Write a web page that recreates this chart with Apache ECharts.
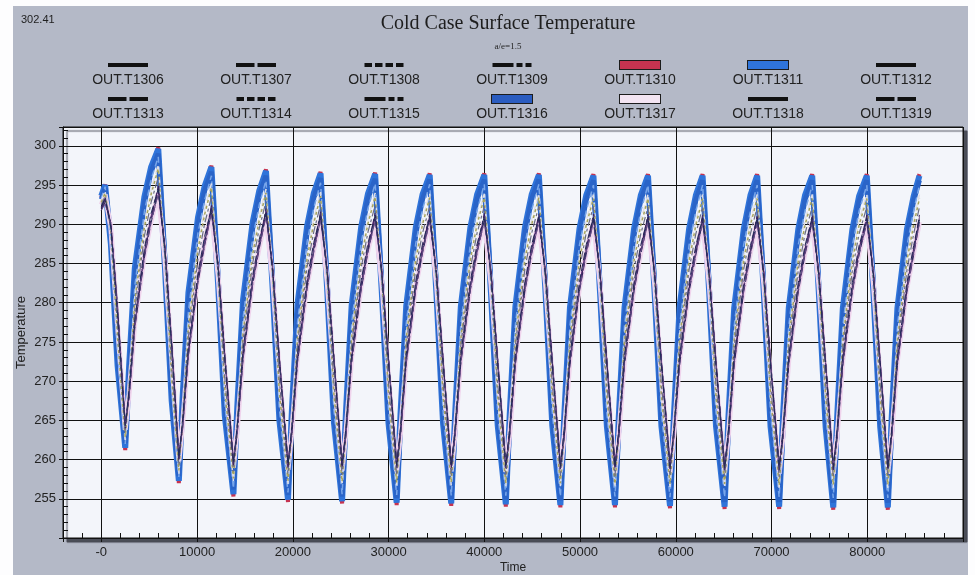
<!DOCTYPE html>
<html>
<head>
<meta charset="utf-8">
<title>Cold Case Surface Temperature</title>
<script src="https://cdn.jsdelivr.net/npm/echarts@6/dist/echarts.min.js"></script>
<style>
  html, body { margin: 0; padding: 0; background: #fff; }
  #chart { width: 975px; height: 575px; }
</style>
</head>
<body>
<div id="chart"></div>
<script>
// legend rows
var legendRow1 = ['OUT.T1306', 'OUT.T1307', 'OUT.T1308', 'OUT.T1309', 'OUT.T1310', 'OUT.T1311', 'OUT.T1312']
var legendRow2 = ['OUT.T1313', 'OUT.T1314', 'OUT.T1315', 'OUT.T1316', 'OUT.T1317', 'OUT.T1318', 'OUT.T1319']

// sample times (s), shared by every sensor
var time = [
  0, 400, 1000, 1700,
  2500, 2900, 3500, 4500, 5200, 5950, 6650, 7350,
  8100, 8500, 9100, 10100, 10800, 11500, 12200, 12900,
  13800, 14200, 14800, 15800, 16500, 17200, 17900, 18600,
  19500, 19900, 20500, 21500, 22200, 22900, 23600, 24300,
  25150, 25550, 26150, 27150, 27850, 28600, 29300, 30000,
  30850, 31250, 31850, 32850, 33550, 34300, 35000, 35700,
  36550, 36950, 37550, 38550, 39250, 40000, 40700, 41400,
  42250, 42650, 43250, 44250, 44950, 45700, 46400, 47100,
  47950, 48350, 48950, 49950, 50650, 51400, 52100, 52800,
  53650, 54050, 54650, 55650, 56350, 57100, 57800, 58500,
  59400, 59800, 60400, 61400, 62100, 62800, 63500, 64200,
  65100, 65500, 66100, 67100, 67800, 68500, 69200, 69900,
  70800, 71200, 71800, 72800, 73500, 74250, 74950, 75650,
  76450, 76850, 77450, 78450, 79150, 79950, 80650, 81350,
  82150, 82550, 83150, 84150, 84850, 85450
]

var t1310 = [
  293.4, 295.1, 287.5, 272.0,
  261.2, 271.8, 284.4, 293.5, 297.3, 299.8, 284.4, 267.5,
  257.0, 268.1, 281.3, 290.9, 294.9, 297.5, 282.3, 265.6,
  255.3, 266.7, 280.3, 290.2, 294.3, 297.0, 281.7, 265.0,
  254.6, 266.1, 279.9, 289.8, 294.0, 296.7, 281.5, 264.7,
  254.4, 266.0, 279.7, 289.7, 293.9, 296.6, 281.3, 264.6,
  254.2, 265.8, 279.6, 289.6, 293.8, 296.5, 281.2, 264.5,
  254.1, 265.7, 279.5, 289.6, 293.8, 296.5, 281.2, 264.4,
  254.0, 265.6, 279.5, 289.6, 293.8, 296.5, 281.2, 264.4,
  253.9, 265.5, 279.4, 289.5, 293.7, 296.4, 281.1, 264.3,
  253.9, 265.5, 279.4, 289.5, 293.7, 296.4, 281.1, 264.3,
  253.8, 265.5, 279.4, 289.5, 293.7, 296.4, 281.1, 264.3,
  253.7, 265.4, 279.3, 289.4, 293.7, 296.4, 281.1, 264.2,
  253.7, 265.4, 279.3, 289.4, 293.7, 296.4, 281.1, 264.2,
  253.6, 265.3, 279.3, 289.4, 293.6, 296.4, 281.1, 264.2,
  253.6, 265.3, 279.3, 289.4, 293.6, 296.4
]

var t1311 = [
  293.6, 295.0, 287.5, 272.0,
  261.5, 271.8, 284.4, 293.5, 297.3, 299.6, 284.4, 267.5,
  257.3, 268.1, 281.3, 290.9, 294.9, 297.3, 282.3, 265.6,
  255.6, 266.7, 280.3, 290.2, 294.3, 296.8, 281.7, 265.0,
  254.9, 266.1, 279.9, 289.8, 294.0, 296.5, 281.5, 264.7,
  254.7, 266.0, 279.7, 289.7, 293.9, 296.4, 281.3, 264.6,
  254.5, 265.8, 279.6, 289.6, 293.8, 296.3, 281.2, 264.5,
  254.4, 265.7, 279.5, 289.6, 293.8, 296.3, 281.2, 264.4,
  254.3, 265.6, 279.5, 289.6, 293.8, 296.3, 281.2, 264.4,
  254.2, 265.5, 279.4, 289.5, 293.7, 296.2, 281.1, 264.3,
  254.2, 265.5, 279.4, 289.5, 293.7, 296.2, 281.1, 264.3,
  254.1, 265.5, 279.4, 289.5, 293.7, 296.2, 281.1, 264.3,
  254.0, 265.4, 279.3, 289.4, 293.7, 296.2, 281.1, 264.2,
  254.0, 265.4, 279.3, 289.4, 293.7, 296.2, 281.1, 264.2,
  253.9, 265.3, 279.3, 289.4, 293.6, 296.2, 281.1, 264.2,
  253.9, 265.3, 279.3, 289.4, 293.6, 296.2
]

var t1316 = [
  293.2, 294.6, 288.5, 273.0,
  262.1, 270.3, 283.2, 292.7, 296.7, 299.0, 285.4, 268.5,
  257.9, 266.6, 280.1, 290.1, 294.3, 296.7, 283.3, 266.6,
  256.2, 265.2, 279.1, 289.4, 293.7, 296.2, 282.7, 266.0,
  255.5, 264.6, 278.7, 289.0, 293.4, 295.9, 282.5, 265.7,
  255.3, 264.5, 278.5, 288.9, 293.3, 295.8, 282.3, 265.6,
  255.1, 264.3, 278.4, 288.8, 293.2, 295.7, 282.2, 265.5,
  255.0, 264.2, 278.3, 288.8, 293.2, 295.7, 282.2, 265.4,
  254.9, 264.1, 278.3, 288.8, 293.2, 295.7, 282.2, 265.4,
  254.8, 264.0, 278.2, 288.7, 293.1, 295.6, 282.1, 265.3,
  254.8, 264.0, 278.2, 288.7, 293.1, 295.6, 282.1, 265.3,
  254.7, 264.0, 278.2, 288.7, 293.1, 295.6, 282.1, 265.3,
  254.6, 263.9, 278.1, 288.6, 293.1, 295.6, 282.1, 265.2,
  254.6, 263.9, 278.1, 288.6, 293.1, 295.6, 282.1, 265.2,
  254.5, 263.8, 278.1, 288.6, 293.0, 295.6, 282.1, 265.2,
  254.5, 263.8, 278.1, 288.6, 293.0, 295.6
]

var t1317 = [
  292.5, 293.8, 289.5, 277.0,
  263.8, 268.3, 277.4, 286.1, 290.4, 294.0, 285.5, 272.8,
  259.8, 264.6, 274.1, 283.3, 287.8, 291.6, 283.5, 271.4,
  259.0, 263.8, 273.4, 282.6, 287.1, 290.9, 282.9, 270.9,
  258.7, 263.5, 273.1, 282.3, 286.8, 290.6, 282.6, 270.6,
  258.6, 263.4, 273.0, 282.2, 286.7, 290.5, 282.5, 270.5,
  258.5, 263.3, 272.9, 282.1, 286.6, 290.5, 282.5, 270.5,
  258.5, 263.3, 272.9, 282.1, 286.6, 290.4, 282.4, 270.4,
  258.4, 263.2, 272.8, 282.0, 286.5, 290.4, 282.4, 270.4,
  258.4, 263.2, 272.8, 282.0, 286.5, 290.4, 282.4, 270.4,
  258.3, 263.1, 272.7, 281.9, 286.4, 290.3, 282.3, 270.3,
  258.3, 263.1, 272.7, 281.9, 286.4, 290.3, 282.3, 270.3,
  258.3, 263.1, 272.7, 281.9, 286.4, 290.3, 282.3, 270.3,
  258.2, 263.0, 272.6, 281.9, 286.4, 290.3, 282.3, 270.3,
  258.2, 263.0, 272.6, 281.9, 286.4, 290.3, 282.3, 270.3,
  258.2, 263.0, 272.6, 281.9, 286.4, 290.3
]

var t1314 = [
  293.3, 294.8, 288.0, 274.0,
  262.0, 270.1, 282.1, 291.6, 295.7, 298.6, 285.1, 268.8,
  257.8, 266.2, 278.9, 288.9, 293.1, 296.2, 283.0, 267.1,
  256.3, 264.9, 277.9, 288.1, 292.5, 295.6, 282.5, 266.5,
  255.8, 264.5, 277.5, 287.8, 292.1, 295.3, 282.2, 266.3,
  255.6, 264.3, 277.4, 287.7, 292.0, 295.2, 282.1, 266.2,
  255.5, 264.2, 277.3, 287.6, 291.9, 295.1, 282.0, 266.1,
  255.4, 264.1, 277.2, 287.5, 291.8, 295.1, 282.0, 266.1,
  255.4, 264.1, 277.2, 287.5, 291.8, 295.1, 282.0, 266.1,
  255.3, 264.0, 277.1, 287.4, 291.7, 295.0, 281.9, 266.0,
  255.3, 264.0, 277.1, 287.4, 291.7, 295.0, 281.9, 266.0,
  255.2, 263.9, 277.0, 287.4, 291.7, 295.0, 281.9, 266.0,
  255.2, 263.9, 277.0, 287.4, 291.7, 295.0, 281.9, 266.0,
  255.2, 263.9, 277.0, 287.4, 291.7, 295.0, 281.9, 266.0,
  255.1, 263.9, 277.0, 287.3, 291.7, 295.0, 281.9, 266.0,
  255.1, 263.9, 277.0, 287.3, 291.7, 295.0
]

var t1307 = [
  293.0, 294.2, 289.0, 275.0,
  262.5, 269.5, 280.8, 290.2, 294.4, 297.6, 285.8, 270.0,
  258.2, 265.6, 277.4, 287.4, 291.9, 295.2, 283.8, 268.6,
  257.2, 264.7, 276.6, 286.7, 291.1, 294.5, 283.2, 268.2,
  256.9, 264.3, 276.2, 286.3, 290.8, 294.1, 282.9, 267.9,
  256.8, 264.2, 276.1, 286.2, 290.7, 294.0, 282.8, 267.9,
  256.7, 264.1, 276.0, 286.1, 290.6, 293.9, 282.7, 267.8,
  256.7, 264.1, 276.0, 286.1, 290.6, 293.9, 282.7, 267.8,
  256.6, 264.1, 276.0, 286.1, 290.6, 293.9, 282.7, 267.8,
  256.6, 264.0, 275.9, 286.0, 290.5, 293.8, 282.6, 267.7,
  256.5, 264.0, 275.9, 286.0, 290.5, 293.8, 282.6, 267.7,
  256.5, 264.0, 275.9, 286.0, 290.5, 293.8, 282.6, 267.7,
  256.5, 264.0, 275.9, 286.0, 290.5, 293.8, 282.6, 267.7,
  256.4, 263.9, 275.8, 286.0, 290.5, 293.8, 282.6, 267.7,
  256.4, 263.9, 275.8, 286.0, 290.5, 293.8, 282.6, 267.7,
  256.4, 263.9, 275.8, 286.0, 290.5, 293.8
]

var t1308 = [
  292.8, 294.0, 289.4, 275.6,
  262.9, 268.9, 280.2, 289.6, 293.8, 297.1, 286.2, 270.4,
  258.6, 265.0, 276.8, 286.8, 291.3, 294.7, 284.2, 269.0,
  257.6, 264.1, 276.0, 286.1, 290.5, 294.0, 283.6, 268.6,
  257.3, 263.7, 275.6, 285.7, 290.2, 293.6, 283.3, 268.3,
  257.2, 263.6, 275.5, 285.6, 290.1, 293.5, 283.2, 268.3,
  257.1, 263.5, 275.4, 285.5, 290.0, 293.4, 283.1, 268.2,
  257.1, 263.5, 275.4, 285.5, 290.0, 293.4, 283.1, 268.2,
  257.0, 263.5, 275.4, 285.5, 290.0, 293.4, 283.1, 268.2,
  257.0, 263.4, 275.3, 285.4, 289.9, 293.3, 283.0, 268.1,
  256.9, 263.4, 275.3, 285.4, 289.9, 293.3, 283.0, 268.1,
  256.9, 263.4, 275.3, 285.4, 289.9, 293.3, 283.0, 268.1,
  256.9, 263.4, 275.3, 285.4, 289.9, 293.3, 283.0, 268.1,
  256.8, 263.3, 275.2, 285.4, 289.9, 293.3, 283.0, 268.1,
  256.8, 263.3, 275.2, 285.4, 289.9, 293.3, 283.0, 268.1,
  256.8, 263.3, 275.2, 285.4, 289.9, 293.3
]

var t1309 = [
  292.5, 293.6, 289.5, 277.0,
  263.5, 269.0, 279.1, 288.5, 292.8, 296.0, 286.1, 271.8,
  259.3, 265.1, 275.7, 285.6, 290.1, 293.5, 284.0, 270.4,
  258.5, 264.3, 275.0, 285.0, 289.5, 292.9, 283.5, 270.0,
  258.2, 264.0, 274.7, 284.6, 289.1, 292.5, 283.2, 269.8,
  258.1, 263.9, 274.6, 284.5, 289.0, 292.4, 283.1, 269.7,
  258.0, 263.8, 274.5, 284.4, 288.9, 292.3, 283.0, 269.7,
  258.0, 263.8, 274.5, 284.4, 288.9, 292.3, 283.0, 269.7,
  258.0, 263.8, 274.5, 284.4, 288.9, 292.3, 283.0, 269.7,
  257.9, 263.7, 274.4, 284.3, 288.9, 292.3, 283.0, 269.7,
  257.9, 263.7, 274.4, 284.3, 288.8, 292.2, 282.9, 269.6,
  257.9, 263.7, 274.4, 284.3, 288.8, 292.2, 282.9, 269.6,
  257.9, 263.7, 274.4, 284.3, 288.8, 292.2, 282.9, 269.6,
  257.8, 263.6, 274.3, 284.2, 288.8, 292.2, 282.9, 269.6,
  257.8, 263.6, 274.3, 284.2, 288.8, 292.2, 282.9, 269.6,
  257.8, 263.6, 274.3, 284.2, 288.8, 292.2
]

var t1306 = [
  292.0, 293.0, 290.0, 279.0,
  264.5, 268.1, 277.1, 286.1, 290.6, 294.3, 287.0, 274.8,
  260.5, 264.3, 273.6, 283.0, 287.7, 291.8, 284.8, 273.2,
  259.8, 263.6, 273.1, 282.6, 287.3, 291.4, 284.4, 272.8,
  259.6, 263.4, 272.8, 282.2, 286.9, 291.0, 284.1, 272.8,
  259.5, 263.3, 272.7, 282.1, 286.8, 290.9, 284.0, 272.7,
  259.5, 263.3, 272.6, 282.0, 286.7, 290.8, 283.9, 272.6,
  259.4, 263.2, 272.6, 282.0, 286.7, 290.8, 283.9, 272.6,
  259.4, 263.2, 272.5, 281.9, 286.6, 290.7, 283.8, 272.5,
  259.3, 263.1, 272.5, 281.9, 286.6, 290.7, 283.8, 272.5,
  259.3, 263.1, 272.5, 281.9, 286.6, 290.7, 283.8, 272.5,
  259.3, 263.1, 272.4, 281.8, 286.5, 290.6, 283.7, 272.4,
  259.2, 263.0, 272.4, 281.8, 286.5, 290.6, 283.7, 272.4,
  259.2, 263.0, 272.4, 281.8, 286.5, 290.6, 283.7, 272.4,
  259.2, 263.0, 272.4, 281.8, 286.5, 290.6, 283.7, 272.4,
  259.2, 263.0, 272.4, 281.8, 286.5, 290.6
]

var t1312 = [
  292.2, 293.2, 290.0, 279.0,
  264.2, 268.5, 277.5, 286.5, 291.0, 294.6, 287.0, 274.8,
  260.2, 264.7, 274.0, 283.4, 288.1, 292.1, 284.8, 273.2,
  259.5, 264.0, 273.5, 283.0, 287.7, 291.7, 284.4, 272.8,
  259.3, 263.8, 273.2, 282.6, 287.3, 291.3, 284.1, 272.8,
  259.2, 263.7, 273.1, 282.5, 287.2, 291.2, 284.0, 272.7,
  259.2, 263.7, 273.0, 282.4, 287.1, 291.1, 283.9, 272.6,
  259.1, 263.6, 273.0, 282.4, 287.1, 291.1, 283.9, 272.6,
  259.1, 263.6, 272.9, 282.3, 287.0, 291.0, 283.8, 272.5,
  259.0, 263.5, 272.9, 282.3, 287.0, 291.0, 283.8, 272.5,
  259.0, 263.5, 272.9, 282.3, 287.0, 291.0, 283.8, 272.5,
  259.0, 263.5, 272.8, 282.2, 286.9, 290.9, 283.7, 272.4,
  258.9, 263.4, 272.8, 282.2, 286.9, 290.9, 283.7, 272.4,
  258.9, 263.4, 272.8, 282.2, 286.9, 290.9, 283.7, 272.4,
  258.9, 263.4, 272.8, 282.2, 286.9, 290.9, 283.7, 272.4,
  258.9, 263.4, 272.8, 282.2, 286.9, 290.9
]

var t1313 = [
  291.8, 292.8, 290.2, 279.6,
  264.7, 267.7, 276.7, 285.7, 290.2, 294.0, 287.2, 275.0,
  260.7, 263.9, 273.2, 282.6, 287.3, 291.5, 285.0, 273.4,
  260.0, 263.2, 272.7, 282.2, 286.9, 291.1, 284.6, 273.0,
  259.8, 263.0, 272.4, 281.8, 286.5, 290.7, 284.3, 273.0,
  259.7, 262.9, 272.3, 281.7, 286.4, 290.6, 284.2, 272.9,
  259.7, 262.9, 272.2, 281.6, 286.3, 290.5, 284.1, 272.8,
  259.6, 262.8, 272.2, 281.6, 286.3, 290.5, 284.1, 272.8,
  259.6, 262.8, 272.1, 281.5, 286.2, 290.4, 284.0, 272.7,
  259.5, 262.7, 272.1, 281.5, 286.2, 290.4, 284.0, 272.7,
  259.5, 262.7, 272.1, 281.5, 286.2, 290.4, 284.0, 272.7,
  259.5, 262.7, 272.0, 281.4, 286.1, 290.3, 283.9, 272.6,
  259.4, 262.6, 272.0, 281.4, 286.1, 290.3, 283.9, 272.6,
  259.4, 262.6, 272.0, 281.4, 286.1, 290.3, 283.9, 272.6,
  259.4, 262.6, 272.0, 281.4, 286.1, 290.3, 283.9, 272.6,
  259.4, 262.6, 272.0, 281.4, 286.1, 290.3
]

var t1315 = [
  292.1, 293.4, 290.1, 279.1,
  264.0, 268.2, 277.2, 286.2, 290.7, 294.9, 287.1, 274.9,
  260.0, 264.4, 273.7, 283.1, 287.8, 292.4, 284.9, 273.3,
  259.3, 263.7, 273.2, 282.7, 287.4, 292.0, 284.5, 272.9,
  259.1, 263.5, 272.9, 282.3, 287.0, 291.6, 284.2, 272.9,
  259.0, 263.4, 272.8, 282.2, 286.9, 291.5, 284.1, 272.8,
  259.0, 263.4, 272.7, 282.1, 286.8, 291.4, 284.0, 272.7,
  258.9, 263.3, 272.7, 282.1, 286.8, 291.4, 284.0, 272.7,
  258.9, 263.3, 272.6, 282.0, 286.7, 291.3, 283.9, 272.6,
  258.8, 263.2, 272.6, 282.0, 286.7, 291.3, 283.9, 272.6,
  258.8, 263.2, 272.6, 282.0, 286.7, 291.3, 283.9, 272.6,
  258.8, 263.2, 272.5, 281.9, 286.6, 291.2, 283.8, 272.5,
  258.7, 263.1, 272.5, 281.9, 286.6, 291.2, 283.8, 272.5,
  258.7, 263.1, 272.5, 281.9, 286.6, 291.2, 283.8, 272.5,
  258.7, 263.1, 272.5, 281.9, 286.6, 291.2, 283.8, 272.5,
  258.7, 263.1, 272.5, 281.9, 286.6, 291.2
]

var t1318 = [
  291.8, 292.6, 290.0, 279.2,
  264.8, 267.9, 276.9, 285.9, 290.4, 293.8, 287.0, 274.9,
  260.8, 264.1, 273.4, 282.8, 287.5, 291.3, 284.8, 273.3,
  260.1, 263.4, 272.9, 282.4, 287.1, 290.9, 284.4, 272.9,
  259.9, 263.2, 272.6, 282.0, 286.7, 290.5, 284.1, 272.9,
  259.8, 263.1, 272.5, 281.9, 286.6, 290.4, 284.0, 272.8,
  259.8, 263.1, 272.4, 281.8, 286.5, 290.3, 283.9, 272.7,
  259.7, 263.0, 272.4, 281.8, 286.5, 290.3, 283.9, 272.7,
  259.7, 263.0, 272.3, 281.7, 286.4, 290.2, 283.8, 272.6,
  259.6, 262.9, 272.3, 281.7, 286.4, 290.2, 283.8, 272.6,
  259.6, 262.9, 272.3, 281.7, 286.4, 290.2, 283.8, 272.6,
  259.6, 262.9, 272.2, 281.6, 286.3, 290.1, 283.7, 272.5,
  259.5, 262.8, 272.2, 281.6, 286.3, 290.1, 283.7, 272.5,
  259.5, 262.8, 272.2, 281.6, 286.3, 290.1, 283.7, 272.5,
  259.5, 262.8, 272.2, 281.6, 286.3, 290.1, 283.7, 272.5,
  259.5, 262.8, 272.2, 281.6, 286.3, 290.1
]

var t1319 = [
  292.3, 293.3, 289.6, 278.4,
  264.3, 268.9, 277.9, 286.9, 291.4, 294.5, 286.6, 274.3,
  260.3, 265.1, 274.4, 283.8, 288.5, 292.0, 284.4, 272.7,
  259.6, 264.4, 273.9, 283.4, 288.1, 291.6, 284.0, 272.3,
  259.4, 264.2, 273.6, 283.0, 287.7, 291.2, 283.7, 272.3,
  259.3, 264.1, 273.5, 282.9, 287.6, 291.1, 283.6, 272.2,
  259.3, 264.1, 273.4, 282.8, 287.5, 291.0, 283.5, 272.1,
  259.2, 264.0, 273.4, 282.8, 287.5, 291.0, 283.5, 272.1,
  259.2, 264.0, 273.3, 282.7, 287.4, 290.9, 283.4, 272.0,
  259.1, 263.9, 273.3, 282.7, 287.4, 290.9, 283.4, 272.0,
  259.1, 263.9, 273.3, 282.7, 287.4, 290.9, 283.4, 272.0,
  259.1, 263.9, 273.2, 282.6, 287.3, 290.8, 283.3, 271.9,
  259.0, 263.8, 273.2, 282.6, 287.3, 290.8, 283.3, 271.9,
  259.0, 263.8, 273.2, 282.6, 287.3, 290.8, 283.3, 271.9,
  259.0, 263.8, 273.2, 282.6, 287.3, 290.8, 283.3, 271.9,
  259.0, 263.8, 273.2, 282.6, 287.3, 290.8
]

var chart = echarts.init(document.getElementById('chart'))

function pairs (values) {
  return time.map(function (t, i) { return [t, values[i]] })
}

// draw order: thick bands first, thin dashed lines on top
var lines = [
  { name: 'OUT.T1310', data: t1310, color: '#c63350', width: 4, type: 'solid' },
  { name: 'OUT.T1311', data: t1311, color: '#2f74da', width: 6, type: 'solid' },
  { name: 'OUT.T1316', data: t1316, color: '#2a64c8', width: 5, type: 'solid' },
  { name: 'OUT.T1317', data: t1317, color: '#efd3ec', width: 5, type: 'solid' },
  { name: 'OUT.T1314', data: t1314, color: '#78a6ea', width: 1.5, type: [6, 4] },
  { name: 'OUT.T1307', data: t1307, color: '#dedee6', width: 1.5, type: [8, 3] },
  { name: 'OUT.T1308', data: t1308, color: '#a8a55c', width: 1.5, type: [3, 3] },
  { name: 'OUT.T1309', data: t1309, color: '#6c6c84', width: 1.2, type: [8, 3, 3, 3] },
  { name: 'OUT.T1306', data: t1306, color: '#2a2256', width: 1, type: [10, 3] },
  { name: 'OUT.T1312', data: t1312, color: '#5c3379', width: 1, type: [12, 4] },
  { name: 'OUT.T1313', data: t1313, color: '#2b2b60', width: 1, type: [8, 3] },
  { name: 'OUT.T1315', data: t1315, color: '#3d205e', width: 1, type: [8, 3, 3, 3, 3, 3] },
  { name: 'OUT.T1318', data: t1318, color: '#6b4b88', width: 1, type: [14, 4] },
  { name: 'OUT.T1319', data: t1319, color: '#1f2d57', width: 1, type: [8, 3] }
]

// legend swatches, drawn as rich text above each name
var swatch = {
  'OUT.T1306': '{b|}',
  'OUT.T1307': '{l|}{g|}{l|}',
  'OUT.T1308': '{s|}{g|}{s|}{g|}{s|}{g|}{s|}',
  'OUT.T1309': '{ll|}{g|}{d|}{g|}{d|}',
  'OUT.T1310': '{red|}',
  'OUT.T1311': '{blue|}',
  'OUT.T1312': '{b|}',
  'OUT.T1313': '{l|}{g|}{l|}',
  'OUT.T1314': '{s|}{g|}{s|}{g|}{s|}{g|}{s|}',
  'OUT.T1315': '{ll|}{g|}{d|}{g|}{d|}',
  'OUT.T1316': '{blue2|}',
  'OUT.T1317': '{pink|}',
  'OUT.T1318': '{b|}',
  'OUT.T1319': '{l|}{g|}{l|}'
}

function seg (w, h, bg) {
  return { width: w, height: h, lineHeight: 14, backgroundColor: bg, align: 'center' }
}
function box (bg) {
  return { width: 40, height: 8, lineHeight: 14, backgroundColor: bg, borderColor: '#1c1c1c', borderWidth: 1, align: 'center' }
}
var legendRich = {
  b: seg(40, 4, '#111'),
  l: seg(18.5, 4, '#111'),
  ll: seg(21, 4, '#111'),
  s: seg(7.5, 4, '#111'),
  d: seg(6, 4, '#111'),
  g: { width: 3, height: 4, lineHeight: 14, align: 'center' },
  red: box('#c63350'),
  blue: box('#2f74da'),
  blue2: box('#2a5cc0'),
  pink: box('#f3e4f2'),
  t: { width: 123, align: 'center', fontSize: 14, lineHeight: 17, color: '#222', fontFamily: 'Liberation Sans' }
}

function legendRow (names, top) {
  return {
    data: names,
    left: 61.5,
    top: top,
    orient: 'horizontal',
    icon: 'none',
    itemWidth: 0,
    itemHeight: 0,
    itemGap: 0,
    padding: 0,
    selectedMode: false,
    formatter: function (name) { return swatch[name] + '\n{t|' + name + '}' },
    textStyle: { rich: legendRich }
  }
}

var option = {
  animation: false,
  backgroundColor: '#b4b9c7',
  title: {
    text: 'Cold Case Surface Temperature',
    subtext: 'a/e=1.5',
    left: 503,
    top: 9,
    textAlign: 'center',
    itemGap: 8,
    textStyle: { fontFamily: 'Liberation Serif', fontSize: 20, fontWeight: 'normal', color: '#1e1e1e' },
    subtextStyle: { fontFamily: 'Liberation Serif', fontSize: 9, color: '#1e1e1e' }
  },
  graphic: [
    { type: 'rect', left: 0, top: 0, shape: { width: 13, height: 575 }, style: { fill: '#fdfdfe' } },
    { type: 'rect', left: 0, top: 0, shape: { width: 975, height: 6 }, style: { fill: '#fdfdfe' } },
    { type: 'rect', right: 0, top: 0, shape: { width: 7, height: 575 }, style: { fill: '#fdfdfe' } },
    { type: 'text', left: 21, top: 14, style: { text: '302.41', font: '11px "Liberation Sans"', fill: '#1e1e1e' } }
  ],
  legend: [legendRow(legendRow1, 59), legendRow(legendRow2, 93)],
  grid: {
    left: 63,
    right: 12,
    top: 127,
    bottom: 37,
    containLabel: false,
    outerBoundsMode: 'none',
    show: true,
    backgroundColor: '#f3f5fa',
    borderColor: '#111',
    borderWidth: 1,
    shadowColor: 'rgba(70,72,82,0.95)',
    shadowBlur: 1,
    shadowOffsetX: 4,
    shadowOffsetY: 4
  },
  xAxis: {
    type: 'value',
    min: -4000,
    max: 90000,
    splitNumber: 9,
    name: 'Time',
    nameLocation: 'middle',
    nameGap: 24,
    nameMoveOverlap: false,
    nameTextStyle: { fontFamily: 'Liberation Sans', fontSize: 12, color: '#222' },
    axisLine: { onZero: false, lineStyle: { color: '#111', width: 1 } },
    axisTick: { show: true, inside: false, length: 4, lineStyle: { color: '#111' } },
    minorTick: { show: true, splitNumber: 5, length: -5, lineStyle: { color: '#111' } },
    splitLine: { show: true, lineStyle: { color: '#111', width: 1 } },
    axisLabel: {
      margin: 8,
      fontFamily: 'Liberation Sans',
      fontSize: 13,
      color: '#222',
      formatter: function (v) {
        if (v === 0) return '-0'
        if (v < 0 || v > 85000) return ''
        return String(v)
      }
    }
  },
  yAxis: {
    type: 'value',
    min: 250,
    max: 302.41,
    interval: 5,
    name: 'Temperature',
    nameLocation: 'middle',
    nameGap: 35,
    nameRotate: 90,
    nameMoveOverlap: false,
    nameTextStyle: { fontFamily: 'Liberation Sans', fontSize: 13, color: '#222' },
    axisLine: { onZero: false, lineStyle: { color: '#111', width: 1 } },
    axisTick: { show: true, inside: false, length: 4, lineStyle: { color: '#111' } },
    minorTick: { show: true, splitNumber: 5, length: -5, lineStyle: { color: '#111' } },
    splitLine: { show: true, lineStyle: { color: '#111', width: 1 } },
    axisLabel: {
      margin: 7,
      fontFamily: 'Liberation Sans',
      fontSize: 13,
      color: '#222',
      formatter: function (v) {
        if (v < 255 || v > 300 || v % 5 !== 0) return ''
        return String(v)
      }
    }
  },
  series: lines.map(function (s) {
    return {
      name: s.name,
      type: 'line',
      data: pairs(s.data),
      showSymbol: false,
      symbol: 'none',
      color: s.color,
      lineStyle: { color: s.color, width: s.width, type: s.type },
      emphasis: { disabled: true }
    }
  })
}

chart.setOption(option)
</script>
</body>
</html>
